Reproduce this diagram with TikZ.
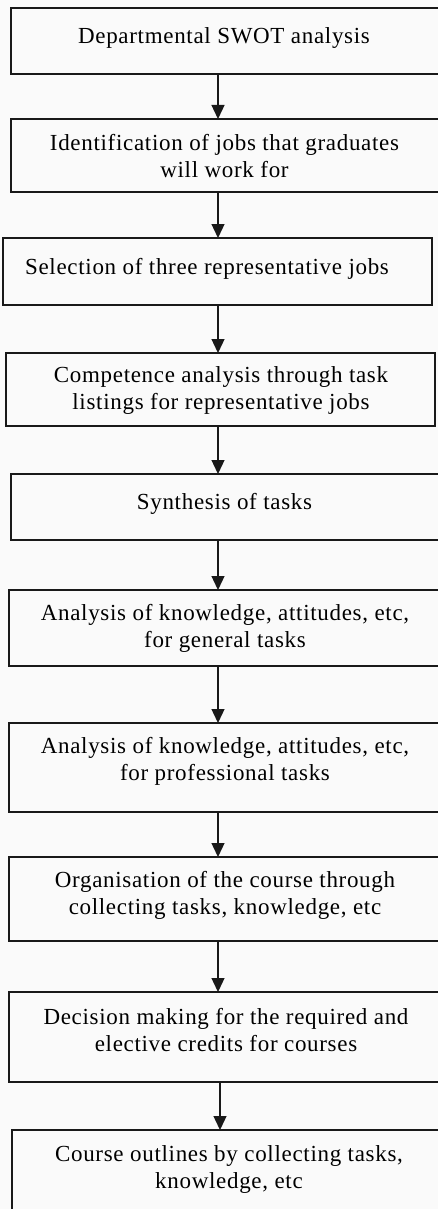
\documentclass[tikz,border=0pt]{standalone}
\usepackage{fontspec}
\setmainfont{Liberation Serif}[LetterSpace=3]
\usetikzlibrary{arrows.meta}
\definecolor{bgc}{RGB}{250,250,250}
\definecolor{linec}{RGB}{25,25,25}
\tikzset{
  box/.style={draw=linec, line width=1.2pt, rectangle, inner sep=0pt, outer sep=0pt},
  txt/.style={align=center, inner sep=0pt, font=\fontsize{23}{27}\selectfont},
  arr/.style={draw=linec, line width=1.3pt, -{Triangle[width=13pt,length=14pt]}}
}
\begin{document}
\begin{tikzpicture}[x=1pt,y=-1pt]
\useasboundingbox (0,0) rectangle (438,1209);
\fill[bgc] (0,0) rectangle (438,1209);
\clip (0,0) rectangle (438,1209);
\coordinate (ax) at (218,0);
\coordinate (axb) at (220,0);
% boxes
\node[box, minimum width=430pt, minimum height=66pt] (b1) at (226,41) {};
\node[box, minimum width=430pt, minimum height=73pt] (b2) at (226,155.5) {};
\node[box, minimum width=429pt, minimum height=67pt] (b3) at (217.5,271.5) {};
\node[box, minimum width=429pt, minimum height=73pt] (b4) at (220.5,389.5) {};
\node[box, minimum width=430pt, minimum height=66pt] (b5) at (226,507) {};
\node[box, minimum width=432pt, minimum height=76pt] (b6) at (225,628) {};
\node[box, minimum width=432pt, minimum height=89pt] (b7) at (225,767.5) {};
\node[box, minimum width=432pt, minimum height=84pt] (b8) at (225,899) {};
\node[box, minimum width=432pt, minimum height=90pt] (b9) at (225,1037) {};
\node[box, minimum width=429pt, minimum height=85pt] (b10) at (226.5,1172.5) {};
% texts
\node[txt] (t1) at (224,38.5) {Departmental SWOT analysis};
\node[txt] (t2) at (224.5,156.5) {Identification of jobs that graduates\\will work for};
\node[txt] (t3) at (207,268.5) {Selection of three representative jobs};
\node[txt] (t4) at (221,390.5) {Competence analysis through task\\listings for representative jobs};
\node[txt] (t5) at (224.5,503.5) {Synthesis of tasks};
\node[txt] (t6) at (225,628) {Analysis of knowledge, attitudes, etc,\\for general tasks};
\node[txt] (t7) at (225,761) {Analysis of knowledge, attitudes, etc,\\for professional tasks};
\node[txt] (t8) at (225,895) {Organisation of the course through\\collecting tasks, knowledge, etc};
\node[txt] (t9) at (226,1030) {Decision making for the required and\\elective credits for courses};
\node[txt] (t10) at (229,1169.5) {Course outlines by collecting tasks,\\knowledge, etc};
% arrows
\draw[arr] (b1.south -| ax) -- (b2.north -| ax);
\draw[arr] (b2.south -| ax) -- (b3.north -| ax);
\draw[arr] (b3.south -| ax) -- (b4.north -| ax);
\draw[arr] (b4.south -| ax) -- (b5.north -| ax);
\draw[arr] (b5.south -| ax) -- (b6.north -| ax);
\draw[arr] (b6.south -| ax) -- (b7.north -| ax);
\draw[arr] (b7.south -| ax) -- (b8.north -| ax);
\draw[arr] (b8.south -| ax) -- (b9.north -| ax);
\draw[arr] (b9.south -| axb) -- (b10.north -| axb);
\end{tikzpicture}
\end{document}
